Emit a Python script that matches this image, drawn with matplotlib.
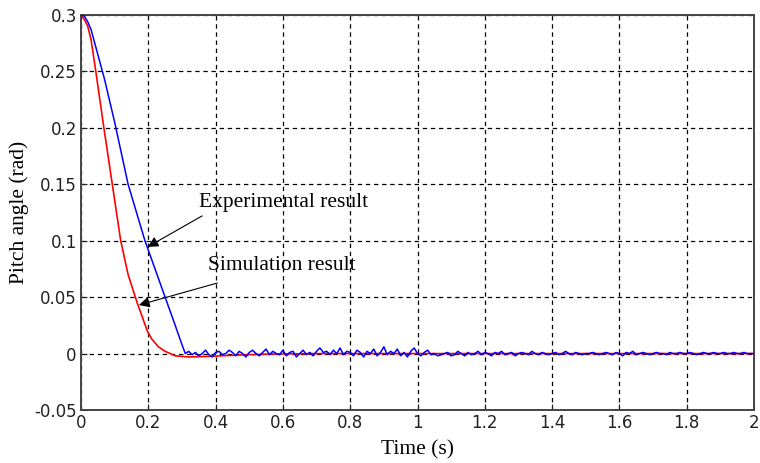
import numpy as np
import matplotlib
matplotlib.use("Agg")
import matplotlib.pyplot as plt

# ---- data ----
sim_t = [0, 0.01, 0.02, 0.03, 0.044, 0.068, 0.093, 0.118, 0.14, 0.167, 0.185,
         0.197, 0.21, 0.23, 0.25, 0.28, 0.32, 0.38, 0.45, 0.55, 0.7, 2.0]
sim_y = [0.3, 0.296, 0.29, 0.278, 0.25, 0.2, 0.15, 0.1, 0.07, 0.045, 0.03,
         0.02, 0.013, 0.006, 0.002, -0.002, -0.003, -0.0025, -0.0015, -0.0005, 0.0, 0.0]

exp_t_start = [0, 0.01, 0.02, 0.03, 0.05, 0.07, 0.10, 0.14, 0.19, 0.22, 0.25, 0.28, 0.30]
exp_y_start = [0.3, 0.299, 0.294, 0.287, 0.265, 0.243, 0.205, 0.15, 0.1, 0.075, 0.05, 0.025, 0.008]

# settled part, t = 0.31 ... 2.00 every 0.01 s, values in mrad
exp_tail_mrad = [
    0, 2, -1, 1, -2, 0, 3, -1, -3, 1,
    2, -1, 0, 3, 1, -2, 2, 0, -3, 1,
    3, 0, -2, 1, 4, -1, 2, 0, -1, 3,
    -2, 1, 2, -3, 0, 3, -1, 1, -2, 2,
    5, 1, 2, -1, 3, 0, 5, -1, 2, 1,
    -2, 3, 1, -3, 2, 0, 4, -2, 1, 6,
    -1, 2, 0, 4, -2, 1, -3, 2, 5, 0,
    -2, 1, 3, -1, 0, -2, -1, 0, 1, -2,
    -1, 2, 0, -2, 1, -1, 0, 2, -1, 1,
    0, -2, 1, 0, 2, -1, 0, 1, -2, 0,
    1, 0, -1, 2, 0, -1, 1, 0, -1, 0,
    1, -1, 0, 2, 0, -1, 1, 0, -1, 0,
    0, 1, 0, -1, 0, 1, 0, -1, 1, 0,
    -2, 1, 0, 2, -1, 0, 1, 0, -1, 0,
    1, 0, 0, -1, 1, 0, 0, 1, 0, 0,
    1, 0, -1, 0, 1, 0, 0, 1, 0, 0,
    1, 0, 0, 1, 0, 0, 1, 0, 0, 0,
]
exp_tail_t0 = 0.31
exp_tail_dt = 0.01

x_ticks = [0, 0.2, 0.4, 0.6, 0.8, 1.0, 1.2, 1.4, 1.6, 1.8, 2.0]
x_ticklabels = ["0", "0.2", "0.4", "0.6", "0.8", "1", "1.2", "1.4", "1.6", "1.8", "2"]
y_ticks = [-0.05, 0, 0.05, 0.1, 0.15, 0.2, 0.25, 0.3]
y_ticklabels = ["-0.05", "0", "0.05", "0.1", "0.15", "0.2", "0.25", "0.3"]

# ---- build experimental series ----
tail_t = [exp_tail_t0 + i * exp_tail_dt for i in range(len(exp_tail_mrad))]
tail_y = [v / 1000.0 for v in exp_tail_mrad]
exp_t = exp_t_start + tail_t
exp_y = exp_y_start + tail_y

fig = plt.figure(figsize=(7.6, 4.63), dpi=100)
ax = fig.add_axes([81 / 760, 1 - 410 / 463, (754 - 81) / 760, (410 - 15) / 463])

ax.plot(sim_t, sim_y, color="#ff0000", lw=1.2, zorder=3)
ax.plot(exp_t, exp_y, color="#0000ff", lw=1.1, zorder=4)

ax.set_xlim(0, 2)
ax.set_ylim(-0.05, 0.3)
ax.set_xticks(x_ticks)
ax.set_xticklabels(x_ticklabels)
ax.set_yticks(y_ticks)
ax.set_yticklabels(y_ticklabels)

ax.grid(True, color="black", linestyle=(0, (3.5, 3)), lw=0.9)
ax.set_axisbelow(True)
for s in ax.spines.values():
    s.set_color("#444444")
    s.set_linewidth(1.4)
ax.tick_params(direction="in", length=4, width=0.8, colors="#222222",
               labelsize=12, pad=3)
for lab in ax.get_xticklabels() + ax.get_yticklabels():
    lab.set_fontfamily("DejaVu Sans")
    lab.set_color("#222222")

serif = "Liberation Serif"
ax.set_xlabel("Time (s)", fontsize=15.5, fontfamily=serif, labelpad=6)
ax.set_ylabel("Pitch angle (rad)", fontsize=15.5, fontfamily=serif, labelpad=4)

arrow = dict(arrowstyle="-|>", color="black", lw=0.8, mutation_scale=16,
             shrinkA=0, shrinkB=0)
ax.annotate("", xy=(0.198, 0.0945), xytext=(0.36, 0.122), arrowprops=arrow)
ax.annotate("", xy=(0.172, 0.043), xytext=(0.405, 0.0625), arrowprops=arrow)
ax.text(0.352, 0.134, "Experimental result", fontsize=15.5, fontfamily=serif,
        va="center", ha="left")
ax.text(0.378, 0.078, "Simulation result", fontsize=15.5, fontfamily=serif,
        va="center", ha="left")

fig.savefig("out.png", dpi=100)
